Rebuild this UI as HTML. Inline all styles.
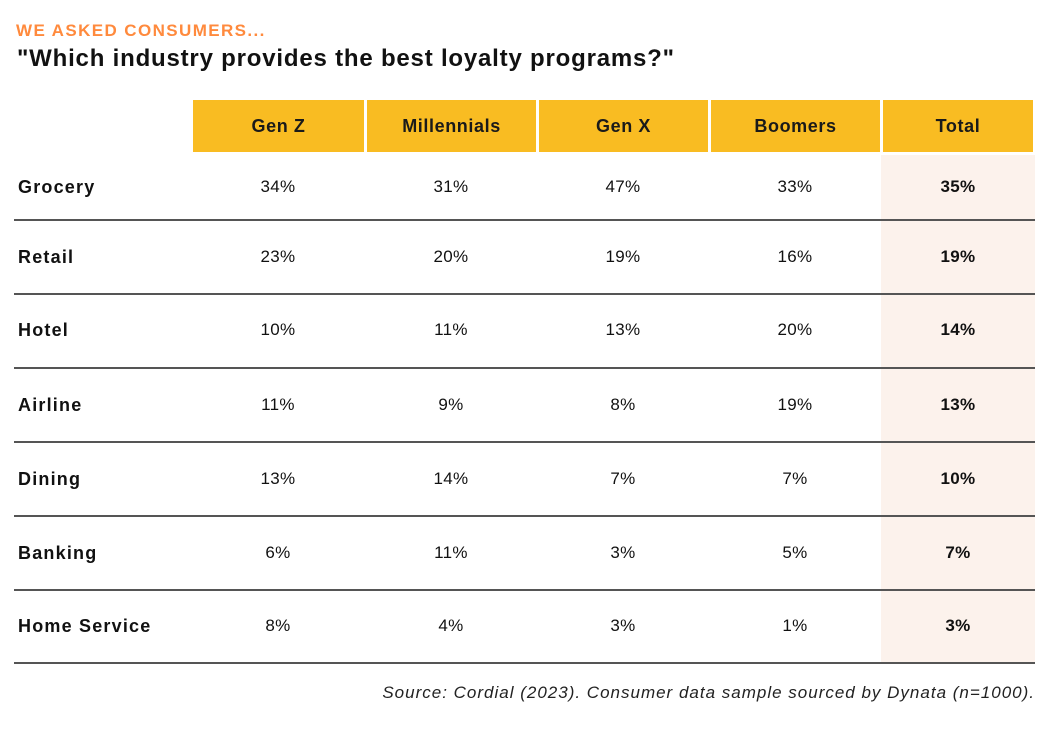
<!DOCTYPE html>
<html><head><style>
body{margin:0;width:1050px;height:729px;background:#fff;font-family:"Liberation Sans",sans-serif;position:relative;overflow:hidden;color:#111}
.a{position:absolute}
.h{position:absolute;top:100px;height:52px;background:#f9bc22;font-weight:bold;font-size:18px;line-height:52px;text-align:center;color:#1a1a1a;letter-spacing:0.6px}
.c{position:absolute;text-align:center;font-size:17px;line-height:20px;letter-spacing:0.3px}
.l{position:absolute;left:18px;font-weight:bold;font-size:18px;line-height:20px;letter-spacing:1.2px}
.ln{position:absolute;left:14px;width:1021px;height:1.5px;background:#555}
</style></head><body>
<div class="a" style="left:16px;top:21px;font-size:17px;font-weight:bold;color:#ff8a3d;letter-spacing:1.4px">WE ASKED CONSUMERS...</div>
<div class="a" style="left:17px;top:45px;font-size:24px;font-weight:bold;color:#111;letter-spacing:0.8px">"Which industry provides the best loyalty programs?"</div>
<div class="a" style="left:881px;top:155px;width:154px;height:507px;background:#fcf2ec"></div>
<div class="h" style="left:193px;width:171px">Gen Z</div>
<div class="h" style="left:367px;width:169px">Millennials</div>
<div class="h" style="left:539px;width:169px">Gen X</div>
<div class="h" style="left:711px;width:169px">Boomers</div>
<div class="h" style="left:883px;width:150px">Total</div>
<div id="rows"></div>
<div class="a" style="right:15px;top:683px;font-size:17px;font-style:italic;color:#222;letter-spacing:1px">Source: Cordial (2023). Consumer data sample sourced by Dynata (n=1000).</div>
<script>
var d=[["Grocery",34,31,47,33,35],["Retail",23,20,19,16,19],["Hotel",10,11,13,20,14],["Airline",11,9,8,19,13],["Dining",13,14,7,7,10],["Banking",6,11,3,5,7],["Home Service",8,4,3,1,3]];
var cx=[278,451,623,795,958],cen=[187,257,330,405,479,553,626],lines=[219,293,367,441,515,589,662],h="";
d.forEach(function(r,i){var y=cen[i]-10;h+='<div class="l" style="top:'+y+'px">'+r[0]+'</div>';
for(var j=1;j<6;j++)h+='<div class="c" style="left:'+(cx[j-1]-60)+'px;width:120px;top:'+y+'px;'+(j==5?'font-weight:bold':'')+'">'+r[j]+'%</div>';
h+='<div class="ln" style="top:'+lines[i]+'px"></div>';});
document.getElementById("rows").innerHTML=h;
</script>
</body></html>
